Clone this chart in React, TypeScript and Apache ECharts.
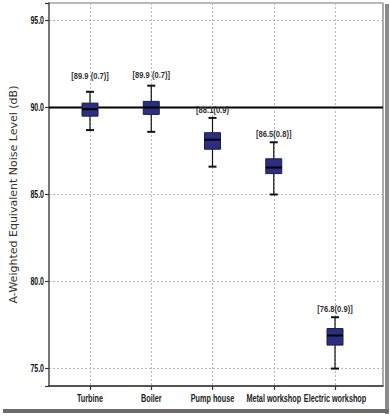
import React, { useEffect, useRef } from "react";
import * as echarts from "echarts";

const categories = ["Turbine", "Boiler", "Pump house", "Metal workshop", "Electric workshop"];
const whiskerMin = [88.7, 88.6, 86.6, 85.0, 75.0];
const quartile1 = [89.5, 89.6, 87.6, 86.2, 76.35];
const medians = [89.9, 90.0, 88.15, 86.55, 76.9];
const quartile3 = [90.25, 90.35, 88.55, 87.05, 77.3];
const whiskerMax = [90.9, 91.25, 89.4, 88.0, 77.95];
const labelTexts = ["[89.9 (0.7)]", "[89.9 (0.7)]", "[88.1(0.9)", "[86.5(0.8)]", "[76.8(0.9)]"];
const labelAt = [91.8, 91.9, 89.85, 88.5, 78.45];
const yTicks = [75, 80, 85, 90, 95];
const limitDb = 90;
const yMin = 74;
const yMax = 96;
const yTitle = "A-Weighted Equivalent Noise Level (dB)";

const sans = "'Liberation Sans', Arial, sans-serif";

export default function App() {
  const ref = useRef<HTMLDivElement>(null);
  useEffect(() => {
    document.body.style.margin = "0";
    const chart = echarts.init(ref.current!, null, { renderer: "svg" });
    const boxData = categories.map((_, i) => [
      i,
      whiskerMin[i],
      quartile1[i],
      medians[i],
      quartile3[i],
      whiskerMax[i],
      labelAt[i],
    ]);
    const option: any = {
      animation: false,
      backgroundColor: "#fff",
      grid: [
        { left: 42, right: 7, top: 3, bottom: 30, show: true, borderColor: "#777", borderWidth: 1.2 },
        { left: 90, right: 55, top: 3, bottom: 30 },
      ],
      xAxis: [
        {
          type: "value",
          gridIndex: 0,
          min: 0,
          max: 1,
          axisLine: { show: true, lineStyle: { color: "#333", width: 1.5 } },
          axisTick: { show: false },
          axisLabel: { show: false },
          splitLine: { show: false },
        },
        {
          type: "category",
          gridIndex: 1,
          data: categories,
          boundaryGap: false,
          axisLine: { show: false },
          axisTick: { show: true, interval: 0, length: 4, lineStyle: { color: "#333", width: 1.2 } },
          axisLabel: { show: false },
          splitLine: { show: true, interval: 0, lineStyle: { color: "#b8b8b8", type: [2, 2], width: 1 } },
        },
      ],
      yAxis: [
        {
          type: "value",
          gridIndex: 0,
          min: yMin,
          max: yMax,
          splitNumber: 5,
          name: yTitle,
          nameLocation: "middle",
          nameGap: 30,
          nameRotate: 90,
          nameTextStyle: { fontFamily: "'DejaVu Sans', sans-serif", fontSize: 11, color: "#333" },
          axisLine: { show: true, lineStyle: { color: "#777", width: 2 } },
          axisTick: { show: true, length: 4, lineStyle: { color: "#333", width: 1.2 } },
          axisLabel: { show: false },
          splitLine: { show: true, lineStyle: { color: "#b8b8b8", type: [2, 2], width: 1 } },
        },
        {
          type: "value",
          gridIndex: 1,
          min: yMin,
          max: yMax,
          show: false,
          splitLine: { show: false },
        },
      ],
      series: [
        {
          type: "line",
          xAxisIndex: 0,
          yAxisIndex: 0,
          data: [
            [0, limitDb],
            [1, limitDb],
          ],
          symbol: "none",
          lineStyle: { color: "#000", width: 2 },
          z: 3,
          silent: true,
        },
        {
          type: "custom",
          xAxisIndex: 0,
          yAxisIndex: 0,
          z: 5,
          silent: true,
          data: yTicks.map((v) => [0, v]),
          renderItem: (params: any, api: any) => {
            const p = api.coord([0, api.value(1)]);
            return {
              type: "text",
              x: p[0] - 5,
              y: p[1],
              scaleX: 0.7,
              style: {
                text: api.value(1).toFixed(1),
                fill: "#111",
                font: `bold 10px ${sans}`,
                textAlign: "right",
                textVerticalAlign: "middle",
              },
            };
          },
        },
        {
          type: "custom",
          xAxisIndex: 1,
          yAxisIndex: 1,
          z: 5,
          data: boxData,
          renderItem: (params: any, api: any) => {
            const idx = api.value(0);
            const pMin = api.coord([idx, api.value(1)]);
            const pQ1 = api.coord([idx, api.value(2)]);
            const pMed = api.coord([idx, api.value(3)]);
            const pQ3 = api.coord([idx, api.value(4)]);
            const pMax = api.coord([idx, api.value(5)]);
            const pLab = api.coord([idx, api.value(6)]);
            const pBase = api.coord([idx, yMin]);
            const x = pMin[0];
            const bw = 16;
            const cw = 8;
            const text = labelTexts[params.dataIndex];
            return {
              type: "group",
              children: [
                {
                  type: "line",
                  shape: { x1: x, y1: pMin[1], x2: x, y2: pMax[1] },
                  style: { stroke: "#111", lineWidth: 1.2 },
                },
                {
                  type: "line",
                  shape: { x1: x - cw / 2, y1: pMin[1], x2: x + cw / 2, y2: pMin[1] },
                  style: { stroke: "#111", lineWidth: 2 },
                },
                {
                  type: "line",
                  shape: { x1: x - cw / 2, y1: pMax[1], x2: x + cw / 2, y2: pMax[1] },
                  style: { stroke: "#111", lineWidth: 2 },
                },
                {
                  type: "rect",
                  shape: { x: x - bw / 2, y: pQ3[1], width: bw, height: pQ1[1] - pQ3[1] },
                  style: { fill: "#2c2f80", stroke: "#1a1c4e", lineWidth: 1 },
                },
                {
                  type: "line",
                  shape: { x1: x - bw / 2, y1: pMed[1], x2: x + bw / 2, y2: pMed[1] },
                  style: { stroke: "#000", lineWidth: 2 },
                },
                {
                  type: "text",
                  x: x,
                  y: pLab[1],
                  scaleX: 0.8,
                  style: {
                    text,
                    fill: "#333",
                    font: `bold 9.5px ${sans}`,
                    textAlign: "center",
                    textVerticalAlign: "middle",
                  },
                },
                {
                  type: "text",
                  x: x,
                  y: pBase[1] + 12,
                  scaleX: 0.66,
                  style: {
                    text: categories[idx],
                    fill: "#222",
                    font: `bold 11px ${sans}`,
                    textAlign: "center",
                    textVerticalAlign: "middle",
                  },
                },
              ],
            };
          },
        },
      ],
      graphic: [
        {
          type: "rect",
          shape: { x: 385, y: 4, width: 4, height: 410 },
          style: { fill: "#8a8a8a" },
          silent: true,
        },
        {
          type: "rect",
          shape: { x: 3, y: 409, width: 386, height: 4 },
          style: { fill: "#6a6a6a" },
          silent: true,
        },
      ],
    };
    chart.setOption(option);
    return () => chart.dispose();
  }, []);
  return <div ref={ref} style={{ width: 390, height: 416 }} />;
}
